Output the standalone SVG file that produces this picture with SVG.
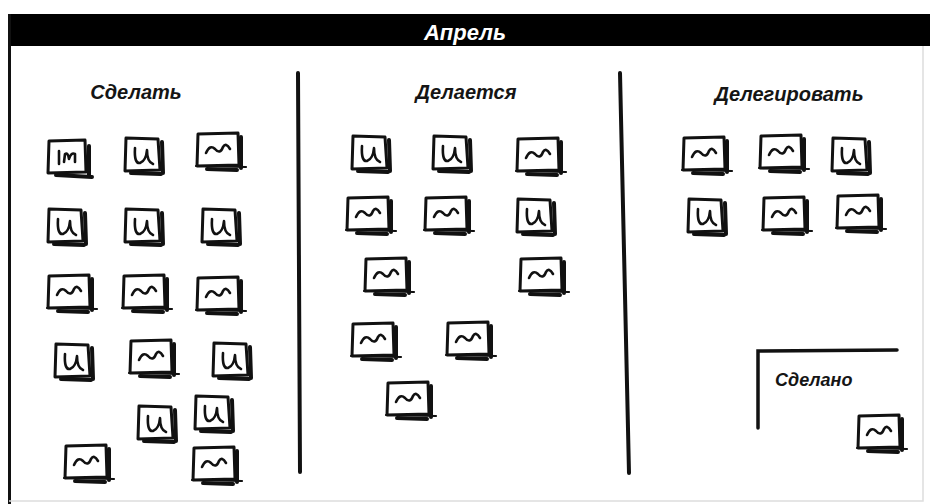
<svg xmlns="http://www.w3.org/2000/svg" xmlns:xlink="http://www.w3.org/1999/xlink" width="930" height="504" viewBox="0 0 930 504">
<style>
.bx{fill:#fff;stroke:#111;stroke-width:3;stroke-linejoin:round}
.sh{fill:none;stroke:#111;stroke-width:4;stroke-linecap:round}
.ln{fill:none;stroke:#111;stroke-width:2.2;stroke-linecap:round}
.ic{fill:none;stroke:#111;stroke-width:2.6;stroke-linecap:round;stroke-linejoin:round}
.hd{font-family:"Liberation Sans",Arial,sans-serif;font-weight:bold;font-style:italic;fill:#151515}
.div{fill:none;stroke:#111;stroke-width:4;stroke-linecap:round}
</style>
<defs>
<g id="wave">
<path class="bx" d="M1 1 L41 0 L42 32 L0 33 Z"/>
<path class="sh" d="M44 4 L44 35"/>
<path class="ln" d="M-1 33 L49 34"/>
<path class="sh" d="M10 36 L40 37"/>
<path class="ic" d="M9 20 Q13 11 18 16 Q23 22 26 14 Q29 9 33 16"/>
</g>
<g id="uu">
<path class="bx" d="M1 1 L33 2 L35 33 L0 34 Z"/>
<path class="sh" d="M37 5 L38 36"/>
<path class="sh" d="M6 36 L36 37"/>
<path class="ic" d="M10 11 Q9 27 15 26 Q21 24 22 13 Q22 25 28 27"/>
</g>
</defs>
<rect width="930" height="504" fill="#fff"/>
<g id="frame">
<rect x="8" y="14" width="922" height="32" fill="#000"/>
<path d="M9.5 14 L9.5 504" stroke="#111" stroke-width="3"/>
<path d="M923 46 L923 501 L9 501" fill="none" stroke="#ddd" stroke-width="1.5"/>
<text x="465" y="40" text-anchor="middle" class="hd" font-size="22" style="fill:#fff">Апрель</text>
</g>
<g id="dividers">
<path class="div" d="M298 73 L300 472"/>
<path class="div" d="M620 73 L629 473"/>
</g>
<g id="connectors"/>
<g id="col-todo">
<text class="hd" x="136" y="99" text-anchor="middle" font-size="20">Сделать</text>
<g id="t1" transform="translate(48,140)">
<path class="bx" d="M1 1 L37 0 L38 32 L0 33 Z"/>
<path class="sh" d="M41 6 L41 36"/>
<path class="sh" d="M8 35 L44 37"/>
<path class="ic" d="M11 11 L11 24 M16 22 L17 14 Q20 12 21 19 Q23 12 27 14 L27 22"/>
</g>
<use id="t2" xlink:href="#uu" x="125" y="137"/>
<use id="t3" xlink:href="#wave" x="197" y="133"/>
<use id="t4" xlink:href="#uu" x="48" y="208"/>
<use id="t5" xlink:href="#uu" x="125" y="208"/>
<use id="t6" xlink:href="#uu" x="202" y="208"/>
<use id="t7" xlink:href="#wave" x="48" y="275"/>
<use id="t8" xlink:href="#wave" x="123" y="275"/>
<use id="t9" xlink:href="#wave" x="197" y="277"/>
<use id="t10" xlink:href="#uu" x="55" y="343"/>
<use id="t11" xlink:href="#wave" x="130" y="340"/>
<use id="t12" xlink:href="#uu" x="213" y="342"/>
<use id="t13" xlink:href="#uu" x="138" y="405"/>
<use id="t14" xlink:href="#uu" x="195" y="395"/>
<use id="t15" xlink:href="#wave" x="65" y="445"/>
<use id="t16" xlink:href="#wave" x="193" y="447"/>
</g>
<g id="col-doing">
<text class="hd" x="466" y="99" text-anchor="middle" font-size="20">Делается</text>
<use id="d1" xlink:href="#uu" x="352" y="135"/>
<use id="d2" xlink:href="#uu" x="433" y="135"/>
<use id="d3" xlink:href="#wave" x="517" y="138"/>
<use id="d4" xlink:href="#wave" x="347" y="197"/>
<use id="d5" xlink:href="#wave" x="425" y="197"/>
<use id="d6" xlink:href="#uu" x="517" y="198"/>
<use id="d7" xlink:href="#wave" x="365" y="258"/>
<use id="d8" xlink:href="#wave" x="520" y="258"/>
<use id="d9" xlink:href="#wave" x="352" y="323"/>
<use id="d10" xlink:href="#wave" x="447" y="322"/>
<use id="d11" xlink:href="#wave" x="387" y="382"/>
</g>
<g id="col-delegate">
<text class="hd" x="789" y="101" text-anchor="middle" font-size="20">Делегировать</text>
<use id="g1" xlink:href="#wave" x="683" y="137"/>
<use id="g2" xlink:href="#wave" x="760" y="135"/>
<use id="g3" xlink:href="#uu" x="832" y="137"/>
<use id="g4" xlink:href="#uu" x="688" y="198"/>
<use id="g5" xlink:href="#wave" x="763" y="197"/>
<use id="g6" xlink:href="#wave" x="837" y="195"/>
</g>
<g id="col-done">
<path class="div" d="M758 428 L758 351 L897 350" style="stroke-width:3.5"/>
<text class="hd" x="775" y="386" font-size="18">Сделано</text>
<use id="n1" xlink:href="#wave" x="858" y="415"/>
</g>
</svg>
